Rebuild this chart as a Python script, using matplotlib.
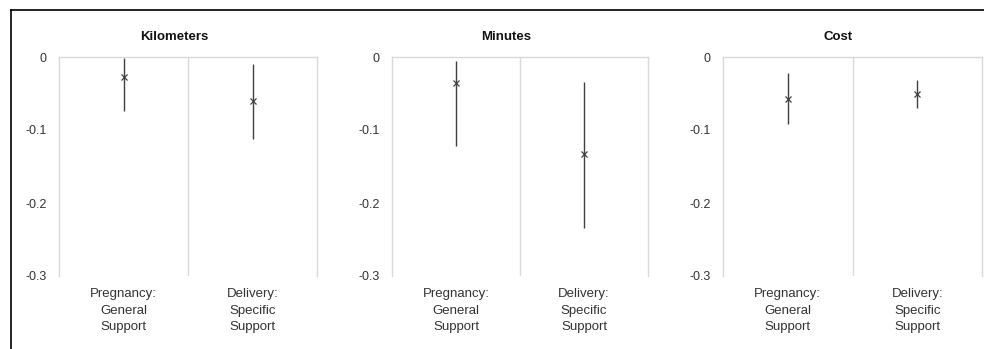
import matplotlib
matplotlib.use('Agg')
import matplotlib.pyplot as plt
from matplotlib.lines import Line2D

plt.rcParams['font.family'] = ['Liberation Sans', 'DejaVu Sans']

# data
panel_titles = ['Kilometers', 'Minutes', 'Cost']
categories = ['Pregnancy:\nGeneral\nSupport', 'Delivery:\nSpecific\nSupport']
estimates = [[-0.027, -0.060], [-0.035, -0.133], [-0.057, -0.051]]
upper = [[-0.001, -0.010], [-0.005, -0.034], [-0.022, -0.031]]
lower = [[-0.074, -0.113], [-0.122, -0.234], [-0.092, -0.070]]
y_ticks = [0, -0.1, -0.2, -0.3]

W, H = 984, 349
fig = plt.figure(figsize=(W / 100, H / 100), dpi=100)

# panel boxes in pixels: left, right
panel_px = [(59, 317), (392, 648), (723, 982)]
top_px, bottom_px = 57, 276

grid_col = '#d9d9d9'
mark_col = '#404040'
text_col = '#333333'

for i, (x0, x1) in enumerate(panel_px):
    ax = fig.add_axes([x0 / W, (H - bottom_px) / H, (x1 - x0) / W, (bottom_px - top_px) / H])
    xs = [1, 2]
    for x, est, hi, lo in zip(xs, estimates[i], upper[i], lower[i]):
        ax.plot([x, x], [lo, hi], color=mark_col, lw=1.0, solid_capstyle='butt')
        ax.plot(x, est, marker='x', color=mark_col, ms=5, mew=0.9, ls='none')
    ax.axvline(1.5, color=grid_col, lw=1.0, zorder=0)
    ax.set_xlim(0.5, 2.5)
    ax.set_ylim(-0.3, 0)
    ax.set_yticks(y_ticks)
    ax.set_yticklabels(['0', '-0.1', '-0.2', '-0.3'])
    ax.set_xticks(xs)
    ax.set_xticklabels(categories, ha='center', linespacing=1.45)
    ax.tick_params(axis='y', length=0, pad=9, labelsize=9, labelcolor=text_col)
    ax.tick_params(axis='x', length=0, pad=9, labelsize=9.5, labelcolor=text_col)
    for s in ['left', 'right', 'top']:
        ax.spines[s].set_color(grid_col)
        ax.spines[s].set_linewidth(1.0)
    ax.spines['bottom'].set_visible(False)
    # title sits a bit left of the plot centre, as in the reference
    ax.set_title(panel_titles[i], fontsize=9.5, fontweight='bold', pad=12,
                 color='#111111', x=0.5 - 14 / (x1 - x0))

# outer frame (cropped at right and bottom)
fig.add_artist(Line2D([10.5 / W, 1.0], [1 - 9.5 / H, 1 - 9.5 / H], color='black', lw=1.2, transform=fig.transFigure))
fig.add_artist(Line2D([10.5 / W, 10.5 / W], [0, 1 - 9.5 / H], color='black', lw=1.2, transform=fig.transFigure))

fig.savefig('out.png', dpi=100)
